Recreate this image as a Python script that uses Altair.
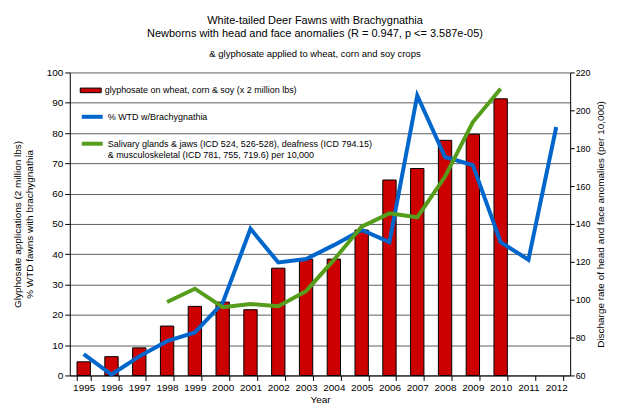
import altair as alt
import pandas as pd

years = [str(y) for y in range(1995, 2013)]
glyphosate = [4.5, 6.2, 9.1, 16.3, 22.8, 24.2, 21.7, 35.4, 38.4, 38.4, 48.0, 64.5, 68.3, 77.6, 79.6, 91.3, None, None]
wtd_pct = [7.0, 0.3, 6.3, 11.3, 14.2, 23.9, 48.4, 37.3, 38.4, 43.0, 48.0, 44.0, 92.4, 72.1, 69.4, 44.0, 38.2, 82.0]
discharge = [None, None, None, 98.8, 105.8, 96.0, 97.7, 96.5, 104.5, 121.0, 138.6, 145.6, 143.5, 165.0, 193.8, 211.4, None, None]

bar_name = "glyphosate on wheat, corn & soy (x 2 million lbs)"
line_names = ["% WTD w/Brachygnathia",
              "Salivary glands & jaws (ICD 524, 526-528), deafness (ICD 794.15)|& musculoskeletal  (ICD 781, 755, 719.6) per 10,000"]
bar_color = "#cc0000"
line_colors = ["#0066cc", "#579d1c"]

FONT = "Liberation Sans"

bars_df = pd.DataFrame({"year": years, "value": glyphosate, "series": bar_name}).dropna()
wtd_df = pd.DataFrame({"year": years, "value": wtd_pct, "series": line_names[0]}).dropna()
dis_df = pd.DataFrame({"year": years, "value": discharge, "series": line_names[1]}).dropna()

x_enc = alt.X("year:O", scale=alt.Scale(domain=years, paddingInner=0.52, paddingOuter=0.26),
              axis=alt.Axis(title="Year", labelAngle=0, tickBand="extent", tickSize=5,
                            domainColor="black", tickColor="black", labelFontSize=10,
                            titleFontSize=10, titleFontWeight="normal", labelPadding=2,
                            titlePadding=2, grid=False))

left_axis = alt.Axis(title=["Glyphosate applications (2 million lbs)", "% WTD fawns with brachygnathia"],
                     tickCount=10, grid=True, gridColor="#5f5f5f", gridWidth=1, tickSize=5,
                     domainColor="black", tickColor="black", labelFontSize=10,
                     titleFontSize=10, titleFontWeight="normal", titlePadding=12, labelPadding=2)

right_axis = alt.Axis(title="Discharge rate of head and face anomalies (per 10,000)", orient="right",
                      tickCount=8, grid=False, tickSize=4, domainColor="black", tickColor="black",
                      labelFontSize=9, titleFontSize=10, titleFontWeight="normal", titleAngle=270,
                      titlePadding=15, labelPadding=1)

rect_symbol = "M-1,-0.22H1V0.22H-1Z"

bars = alt.Chart(bars_df).mark_bar(stroke="black", strokeWidth=1).encode(
    x=x_enc,
    y=alt.Y("value:Q", scale=alt.Scale(domain=[0, 100]), axis=left_axis),
    fill=alt.Fill("series:N", scale=alt.Scale(domain=[bar_name], range=[bar_color]),
                  legend=alt.Legend(title=None, orient="none", legendX=10, legendY=7, padding=0,
                                    symbolType=rect_symbol, symbolSize=441, symbolStrokeColor="black",
                                    symbolStrokeWidth=1, labelFontSize=9, labelOffset=3,
                                    labelLimit=500)),
)

stroke_scale = alt.Scale(domain=line_names, range=line_colors)
stroke_legend = alt.Legend(title=None, orient="none", legendX=10, legendY=32, padding=0,
                           symbolType="stroke", symbolSize=441, symbolStrokeWidth=4,
                           labelFontSize=9, labelOffset=3, labelLimit=500, rowPadding=6,
                           labelExpr="split(datum.label, '|')")

blue = alt.Chart(wtd_df).mark_line(strokeWidth=4, strokeJoin="miter").encode(
    x=x_enc,
    y=alt.Y("value:Q", scale=alt.Scale(domain=[0, 100]), axis=left_axis),
    stroke=alt.Stroke("series:N", scale=stroke_scale, legend=stroke_legend),
)

green = alt.Chart(dis_df).mark_line(strokeWidth=4, strokeJoin="miter").encode(
    x=x_enc,
    y=alt.Y("value:Q", scale=alt.Scale(domain=[60, 220]), axis=right_axis),
    stroke=alt.Stroke("series:N", scale=stroke_scale, legend=stroke_legend),
)

left_layer = alt.layer(bars, blue)
chart = alt.layer(left_layer, green).resolve_scale(y="independent").properties(
    width=502, height=304,
    padding={"left": 62, "top": 64, "right": 44, "bottom": 30},
    autosize=alt.AutoSizeParams(type="none"),
    title=alt.TitleParams(
        text=["White-tailed Deer Fawns with Brachygnathia",
              "Newborns with head and face anomalies (R = 0.947, p <= 3.587e-05)"],
        subtitle="& glyphosate applied to wheat, corn and soy crops",
        fontSize=11, fontWeight="normal", lineHeight=13, subtitleFontSize=9.5,
        subtitlePadding=10, anchor="middle", offset=9, dx=-5, color="black", subtitleColor="black",
    ),
).configure(font=FONT).configure_view(strokeWidth=0).configure_axis(
    labelColor="black", titleColor="black", labelFont=FONT, titleFont=FONT
).configure_legend(labelFont=FONT, labelColor="black")

chart.save("out.html", embed_options={"renderer": "svg", "actions": False})
